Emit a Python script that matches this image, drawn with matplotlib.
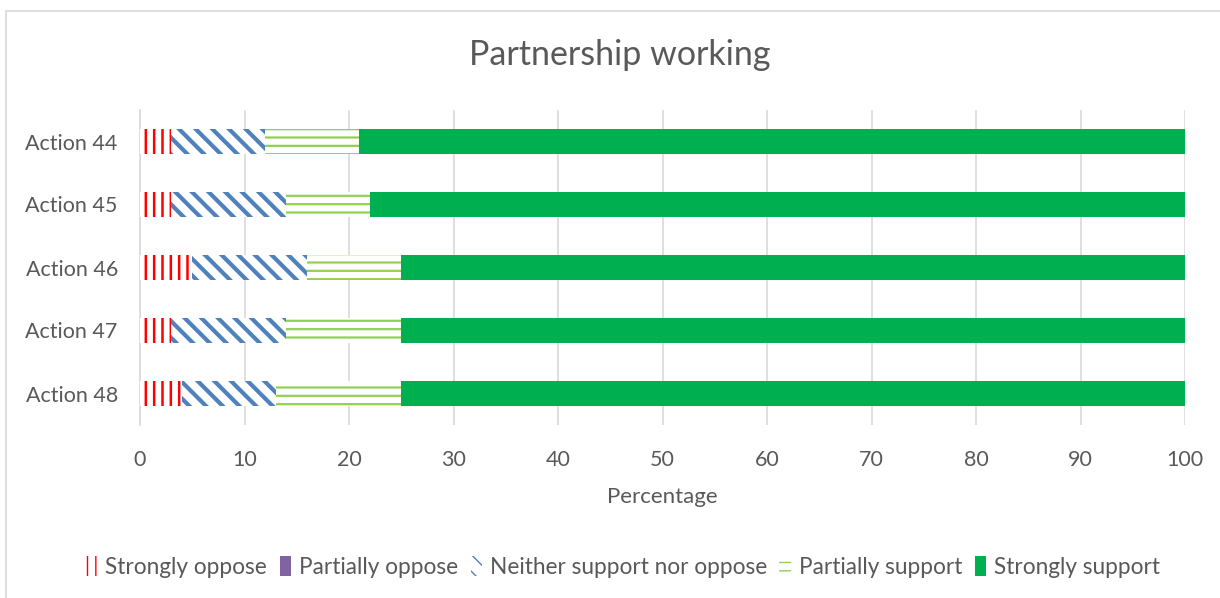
import matplotlib.pyplot as plt
from matplotlib.patches import Patch, Rectangle

plt.rcParams['font.family'] = ['Lato', 'DejaVu Sans']

actions = ["Action 44", "Action 45", "Action 46", "Action 47", "Action 48"]
strongly_oppose = [3, 3, 5, 3, 4]
partially_oppose = [0, 0, 0, 0, 0]
neither = [9, 11, 11, 11, 9]
partially_support = [9, 8, 9, 11, 12]
strongly_support = [79, 78, 75, 75, 75]

series = ["Strongly oppose", "Partially oppose", "Neither support nor oppose",
          "Partially support", "Strongly support"]
values = [strongly_oppose, partially_oppose, neither, partially_support, strongly_support]

# (face, hatch colour, hatch, hatch linewidth)
styles = [
    ("white", "#FF0000", "||", 1.8),
    ("#8064A2", "#8064A2", None, 1.0),
    ("white", "#4F81BD", "\\\\", 3.0),
    ("white", "#92D050", "--", 1.6),
    ("#00B050", "#00B050", None, 1.0),
]

text_col = "#595959"
grid_col = "#D9D9D9"

fig = plt.figure(figsize=(12.2, 5.98), dpi=100)
fig.patches.append(Rectangle((6 / 1220, -0.05), 1.1, 1 - 11 / 598 + 0.05,
                             transform=fig.transFigure, fill=False,
                             edgecolor=grid_col, linewidth=1.2))
ax = fig.add_axes([140 / 1220, 1 - 425 / 598, 1045 / 1220, 315 / 598])

y = list(range(len(actions)))
left = [0] * len(actions)
handles = []
for name, vals, (fc, hc, hatch, hlw) in zip(series, values, styles):
    with plt.rc_context({'hatch.linewidth': hlw}):
        bars = ax.barh(y, vals, left=left, height=0.4, color=fc,
                       edgecolor=hc, linewidth=0, hatch=hatch, zorder=3)
        for b in bars:
            if hasattr(b, "set_hatch_linewidth"):
                b.set_hatch_linewidth(hlw)
        h = Patch(facecolor=fc, edgecolor=hc, linewidth=0, hatch=hatch, label=name)
        if hasattr(h, "set_hatch_linewidth"):
            h.set_hatch_linewidth(hlw)
    handles.append(h)
    left = [l + v for l, v in zip(left, vals)]

ax.set_xlim(0, 100)
ax.set_ylim(4.5, -0.5)
ax.set_yticks(y)
ax.set_yticklabels(actions)
ax.set_xticks(range(0, 101, 10))
ax.tick_params(length=0, labelsize=15.5, colors=text_col)
ax.tick_params(axis='y', pad=16)
ax.tick_params(axis='x', pad=18)
ax.xaxis.grid(True, color=grid_col, linewidth=1.2, zorder=0)
for s in ["top", "right", "bottom"]:
    ax.spines[s].set_visible(False)
ax.spines["left"].set_color(grid_col)
ax.spines["left"].set_linewidth(1.2)

ax.set_xlabel("Percentage", fontsize=16, color=text_col, labelpad=12)
fig.text(620 / 1220, 1 - 55 / 598, "Partnership working", fontsize=24.5,
         color=text_col, ha="center", va="center")

fig.legend(handles=handles, loc="center", bbox_to_anchor=(623 / 1220, 1 - 567 / 598),
           ncol=5, frameon=False, fontsize=16.3, labelcolor=text_col,
           handlelength=0.5, handleheight=1.0, handletextpad=0.35, columnspacing=0.55)

fig.savefig("out.png", dpi=100)
